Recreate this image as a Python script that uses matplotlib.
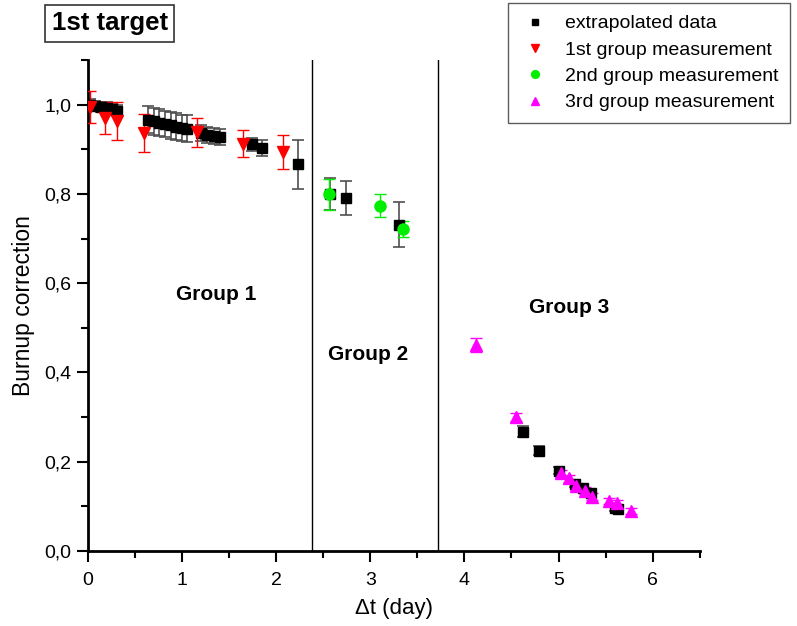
import numpy as np
import matplotlib
matplotlib.use("Agg")
import matplotlib.pyplot as plt
from matplotlib.ticker import FuncFormatter, MultipleLocator

plt.rcParams['font.family'] = ['Liberation Sans', 'DejaVu Sans']

# -------------------------------
# DATA
# -------------------------------
# extrapolated data (black squares)
ext_x = [0.02, 0.08, 0.14, 0.20, 0.26, 0.31,
         0.64, 0.70, 0.76, 0.82, 0.88, 0.94, 1.00, 1.06,
         1.20, 1.27, 1.34, 1.40,
         1.74, 1.85, 2.23,
         2.57, 2.74, 3.31,
         4.62, 4.79, 5.00, 5.17, 5.26, 5.35, 5.60, 5.63]
ext_y = [1.000, 0.997, 0.995, 0.993, 0.990, 0.987,
         0.966, 0.963, 0.960, 0.957, 0.954, 0.951, 0.948, 0.946,
         0.936, 0.933, 0.930, 0.927,
         0.911, 0.904, 0.866,
         0.800, 0.791, 0.731,
         0.267, 0.224, 0.180, 0.151, 0.140, 0.129, 0.096, 0.093]
ext_err = [0.012, 0.012, 0.012, 0.012, 0.012, 0.012,
           0.030, 0.030, 0.030, 0.030, 0.030, 0.030, 0.030, 0.030,
           0.018, 0.018, 0.018, 0.018,
           0.015, 0.018, 0.055,
           0.035, 0.038, 0.050,
           0.012, 0.010, 0.008, 0.008, 0.008, 0.008, 0.007, 0.007]

# 1st group measurement (red down triangles)
g1_x = [0.02, 0.18, 0.31, 0.60, 1.16, 1.65, 2.07]
g1_y = [0.994, 0.971, 0.963, 0.937, 0.938, 0.913, 0.893]
g1_err = [0.036, 0.036, 0.043, 0.043, 0.033, 0.030, 0.038]

# 2nd group measurement (green circles)
g2_x = [2.56, 3.10, 3.35]
g2_y = [0.799, 0.774, 0.721]
g2_err = [0.035, 0.025, 0.018]

# 3rd group measurement (magenta up triangles)
g3_x = [4.12, 4.55, 5.03, 5.11, 5.19, 5.28, 5.36, 5.54, 5.62, 5.77]
g3_y = [0.461, 0.300, 0.174, 0.163, 0.145, 0.135, 0.121, 0.112, 0.107, 0.090]
g3_err = [0.016, 0.010, 0.008, 0.008, 0.008, 0.008, 0.008, 0.007, 0.007, 0.007]

group_bounds = [2.38, 3.715]

# -------------------------------
# FIGURE
# -------------------------------
fig = plt.figure(figsize=(7.97, 6.26), dpi=100)
ax = fig.add_axes([0.110, 0.120, 0.768, 0.784])

# error bars first, markers on top
ax.errorbar(ext_x, ext_y, yerr=ext_err, fmt='none', ecolor='#505050',
            elinewidth=1.2, capsize=4, capthick=1.2, zorder=2)
ax.errorbar(g1_x, g1_y, yerr=g1_err, fmt='none', ecolor='red',
            elinewidth=1.0, capsize=4, capthick=1.0, zorder=3)
ax.errorbar(g2_x, g2_y, yerr=g2_err, fmt='none', ecolor='#00ee00',
            elinewidth=1.0, capsize=4, capthick=1.0, zorder=3)
ax.errorbar(g3_x, g3_y, yerr=g3_err, fmt='none', ecolor='magenta',
            elinewidth=1.0, capsize=4, capthick=1.0, zorder=3)

ax.plot(ext_x, ext_y, 's', color='black', ms=7, ls='none',
        label='extrapolated data', zorder=4)
ax.plot(g1_x, g1_y, 'v', color='red', ms=9, ls='none',
        label='1st group measurement', zorder=5)
ax.plot(g2_x, g2_y, 'o', color='#00ee00', ms=8, ls='none',
        label='2nd group measurement', zorder=5)
ax.plot(g3_x, g3_y, '^', color='magenta', ms=9, ls='none',
        label='3rd group measurement', zorder=5)

for b in group_bounds:
    ax.axvline(b, color='black', lw=1.0, zorder=1)

ax.text(1.36, 0.575, 'Group 1', fontsize=15, fontweight='bold', ha='center', va='center')
ax.text(2.98, 0.44, 'Group 2', fontsize=15, fontweight='bold', ha='center', va='center')
ax.text(5.11, 0.545, 'Group 3', fontsize=15, fontweight='bold', ha='center', va='center')

# axes styling (Origin-like)
ax.set_xlim(0, 6.5)
ax.set_ylim(0, 1.1)
ax.spines['top'].set_visible(False)
ax.spines['right'].set_visible(False)
ax.spines['left'].set_linewidth(2)
ax.spines['bottom'].set_linewidth(2)
ax.xaxis.set_major_locator(MultipleLocator(1))
ax.xaxis.set_minor_locator(MultipleLocator(0.5))
ax.yaxis.set_major_locator(MultipleLocator(0.2))
ax.yaxis.set_minor_locator(MultipleLocator(0.1))
ax.tick_params(which='major', direction='out', length=8, width=1.5, labelsize=14)
ax.tick_params(which='minor', direction='out', length=5, width=1.5)
ax.tick_params(axis='x', which='major', pad=7)
ax.yaxis.set_major_formatter(FuncFormatter(lambda v, p: f"{v:.1f}".replace('.', ',')))
ax.xaxis.set_major_formatter(FuncFormatter(lambda v, p: f"{v:.0f}"))

ax.set_xlabel('Δt (day)', fontsize=16, labelpad=7)
ax.set_ylabel('Burnup correction', fontsize=16.5, labelpad=7)

fig.legend(loc='upper right', bbox_to_anchor=(0.991, 0.995), borderaxespad=0,
           fontsize=14, frameon=True, fancybox=False, edgecolor='#333333',
           markerscale=0.7, handletextpad=0.7, labelspacing=0.45,
           borderpad=0.6, handlelength=1.6)

fig.text(0.138, 0.963, '1st target', fontsize=18.5, fontweight='bold',
         ha='center', va='center',
         bbox=dict(boxstyle='square,pad=0.25', fc='white', ec='#333333', lw=1.2))

plt.savefig('out.png', dpi=100)
plt.close()
